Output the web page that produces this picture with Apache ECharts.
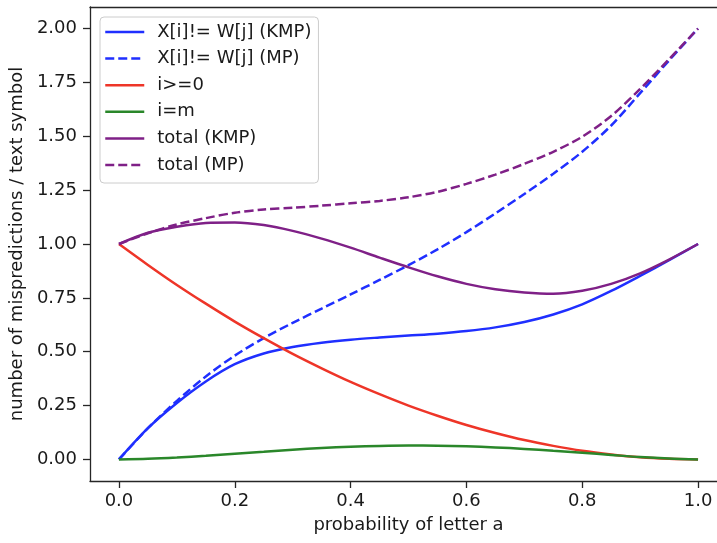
<!DOCTYPE html>
<html>
<head>
<meta charset="utf-8">
<script src="https://cdn.jsdelivr.net/npm/echarts@6/dist/echarts.min.js"></script>
<style>
  html, body { margin: 0; padding: 0; background: #ffffff; width: 717px; height: 543px; overflow: hidden; }
  #chart { width: 727px; height: 543px; }
</style>
</head>
<body>
<div id="chart"></div>
<script>
// probability of letter a (x values)
const probabilities = [0, 0.05, 0.1, 0.15, 0.2, 0.25, 0.3, 0.35, 0.4, 0.45, 0.5,
                       0.55, 0.6, 0.65, 0.7, 0.75, 0.8, 0.85, 0.9, 0.95, 1.0];

// X[i]!= W[j] (KMP)
const mismatchKMP = [0, 0.145, 0.262, 0.362, 0.442, 0.492, 0.522, 0.542, 0.556, 0.566, 0.575,
                     0.584, 0.596, 0.613, 0.638, 0.673, 0.72, 0.782, 0.852, 0.925, 1.0];
// X[i]!= W[j] (MP)
const mismatchMP = [0, 0.145, 0.272, 0.385, 0.482, 0.563, 0.634, 0.7, 0.766, 0.833, 0.902,
                    0.975, 1.055, 1.142, 1.232, 1.326, 1.428, 1.55, 1.7, 1.852, 2.0];
// i>=0
const loopCheck = [1.0, 0.903, 0.81, 0.723, 0.64, 0.563, 0.49, 0.423, 0.36, 0.303, 0.25,
                   0.203, 0.16, 0.123, 0.09, 0.063, 0.04, 0.023, 0.01, 0.003, 0.0];
// i=m
const matchCheck = [0, 0.003, 0.009, 0.017, 0.027, 0.036, 0.045, 0.053, 0.059, 0.063, 0.065,
                    0.064, 0.061, 0.056, 0.049, 0.04, 0.031, 0.021, 0.011, 0.004, 0];
// total (KMP)
const totalKMP = [1.0, 1.052, 1.08, 1.098, 1.1, 1.088, 1.061, 1.025, 0.983, 0.937, 0.892,
                  0.85, 0.815, 0.79, 0.775, 0.769, 0.783, 0.815, 0.864, 0.928, 1.0];
// total (MP)
const totalMP = [1.0, 1.05, 1.091, 1.12, 1.145, 1.16, 1.168, 1.178, 1.189, 1.2, 1.217,
                 1.242, 1.279, 1.322, 1.372, 1.428, 1.498, 1.594, 1.72, 1.858, 2.0];

const xTicks = [0, 0.2, 0.4, 0.6, 0.8, 1.0];
const yTicks = [0, 0.25, 0.5, 0.75, 1.0, 1.25, 1.5, 1.75, 2.0];

const seriesNames = ['X[i]!= W[j] (KMP)', 'X[i]!= W[j] (MP)', 'i>=0', 'i=m', 'total (KMP)', 'total (MP)'];

const FONT = 'DejaVu Sans';
const FS = 18;
const TXT = '#1a1a1a';
const SPINE = '#262626';

function pairs(ys) { return probabilities.map((p, i) => [p, ys[i]]); }

function lineSeries(name, ys, color, dashed) {
  return {
    name: name,
    type: 'line',
    xAxisIndex: 0,
    yAxisIndex: 0,
    data: pairs(ys),
    smooth: 0.3,
    symbol: 'none',
    showSymbol: false,
    lineStyle: { color: color, width: 2.5, type: dashed ? [9, 4] : 'solid', cap: 'butt' },
    itemStyle: { color: color },
    emphasis: { disabled: true },
    animation: false
  };
}

const X_MIN = -0.05, X_MAX = 1.05;

const chart = echarts.init(document.getElementById('chart'), null, { renderer: 'canvas' });
chart.setOption({
  animation: false,
  backgroundColor: '#ffffff',
  grid: {
    left: 90, right: 0, top: 7, bottom: 62,
    show: false
  },
  xAxis: [{
    type: 'value',
    min: X_MIN, max: X_MAX,
    name: 'probability of letter a',
    nameLocation: 'middle',
    nameGap: 35,
    nameTextStyle: { fontFamily: FONT, fontSize: FS, color: TXT },
    axisLine: { show: true, onZero: false, lineStyle: { color: SPINE, width: 1.3 } },
    axisTick: { show: true, length: 7, lineStyle: { color: SPINE, width: 1.3 }, customValues: xTicks },
    axisLabel: {
      show: true, margin: 11, fontFamily: FONT, fontSize: FS, color: TXT,
      customValues: xTicks,
      formatter: v => Number(v).toFixed(1)
    },
    splitLine: { show: false }
  }, {
    type: 'value',
    position: 'top',
    min: X_MIN, max: X_MAX,
    axisLine: { show: true, onZero: false, lineStyle: { color: SPINE, width: 1.3 } },
    axisTick: { show: false },
    axisLabel: { show: false },
    splitLine: { show: false }
  }],
  yAxis: {
    type: 'value',
    min: -0.1, max: 2.1,
    name: 'number of mispredictions / text symbol',
    nameLocation: 'middle',
    nameGap: 54,
    nameTextStyle: { fontFamily: FONT, fontSize: FS, color: TXT },
    axisLine: { show: true, onZero: false, lineStyle: { color: SPINE, width: 1.3 } },
    axisTick: { show: true, length: 7, lineStyle: { color: SPINE, width: 1.3 }, customValues: yTicks },
    axisLabel: {
      show: true, margin: 13, fontFamily: FONT, fontSize: FS, color: TXT,
      customValues: yTicks,
      formatter: v => Number(v).toFixed(2)
    },
    splitLine: { show: false }
  },
  legend: {
    show: true,
    orient: 'vertical',
    left: 100, top: 17,
    padding: [6, 7, 9, 4],
    itemWidth: 39, itemHeight: 16, itemGap: 8.6,
    backgroundColor: 'rgba(255,255,255,0.8)',
    borderColor: '#cccccc', borderWidth: 1, borderRadius: 4,
    itemStyle: { opacity: 0, borderWidth: 0 },
    lineStyle: { width: 2.5 },
    textStyle: { fontFamily: FONT, fontSize: FS, color: TXT, lineHeight: 16, padding: [0, 0, 0, 8] },
    selectedMode: false,
    data: seriesNames
  },
  series: [
    lineSeries(seriesNames[0], mismatchKMP, '#1f2fff', false),
    lineSeries(seriesNames[1], mismatchMP, '#1f2fff', true),
    lineSeries(seriesNames[2], loopCheck, '#ee3528', false),
    lineSeries(seriesNames[3], matchCheck, '#2a872a', false),
    lineSeries(seriesNames[4], totalKMP, '#7f2087', false),
    lineSeries(seriesNames[5], totalMP, '#7f2087', true)
  ]
});
</script>
</body>
</html>
